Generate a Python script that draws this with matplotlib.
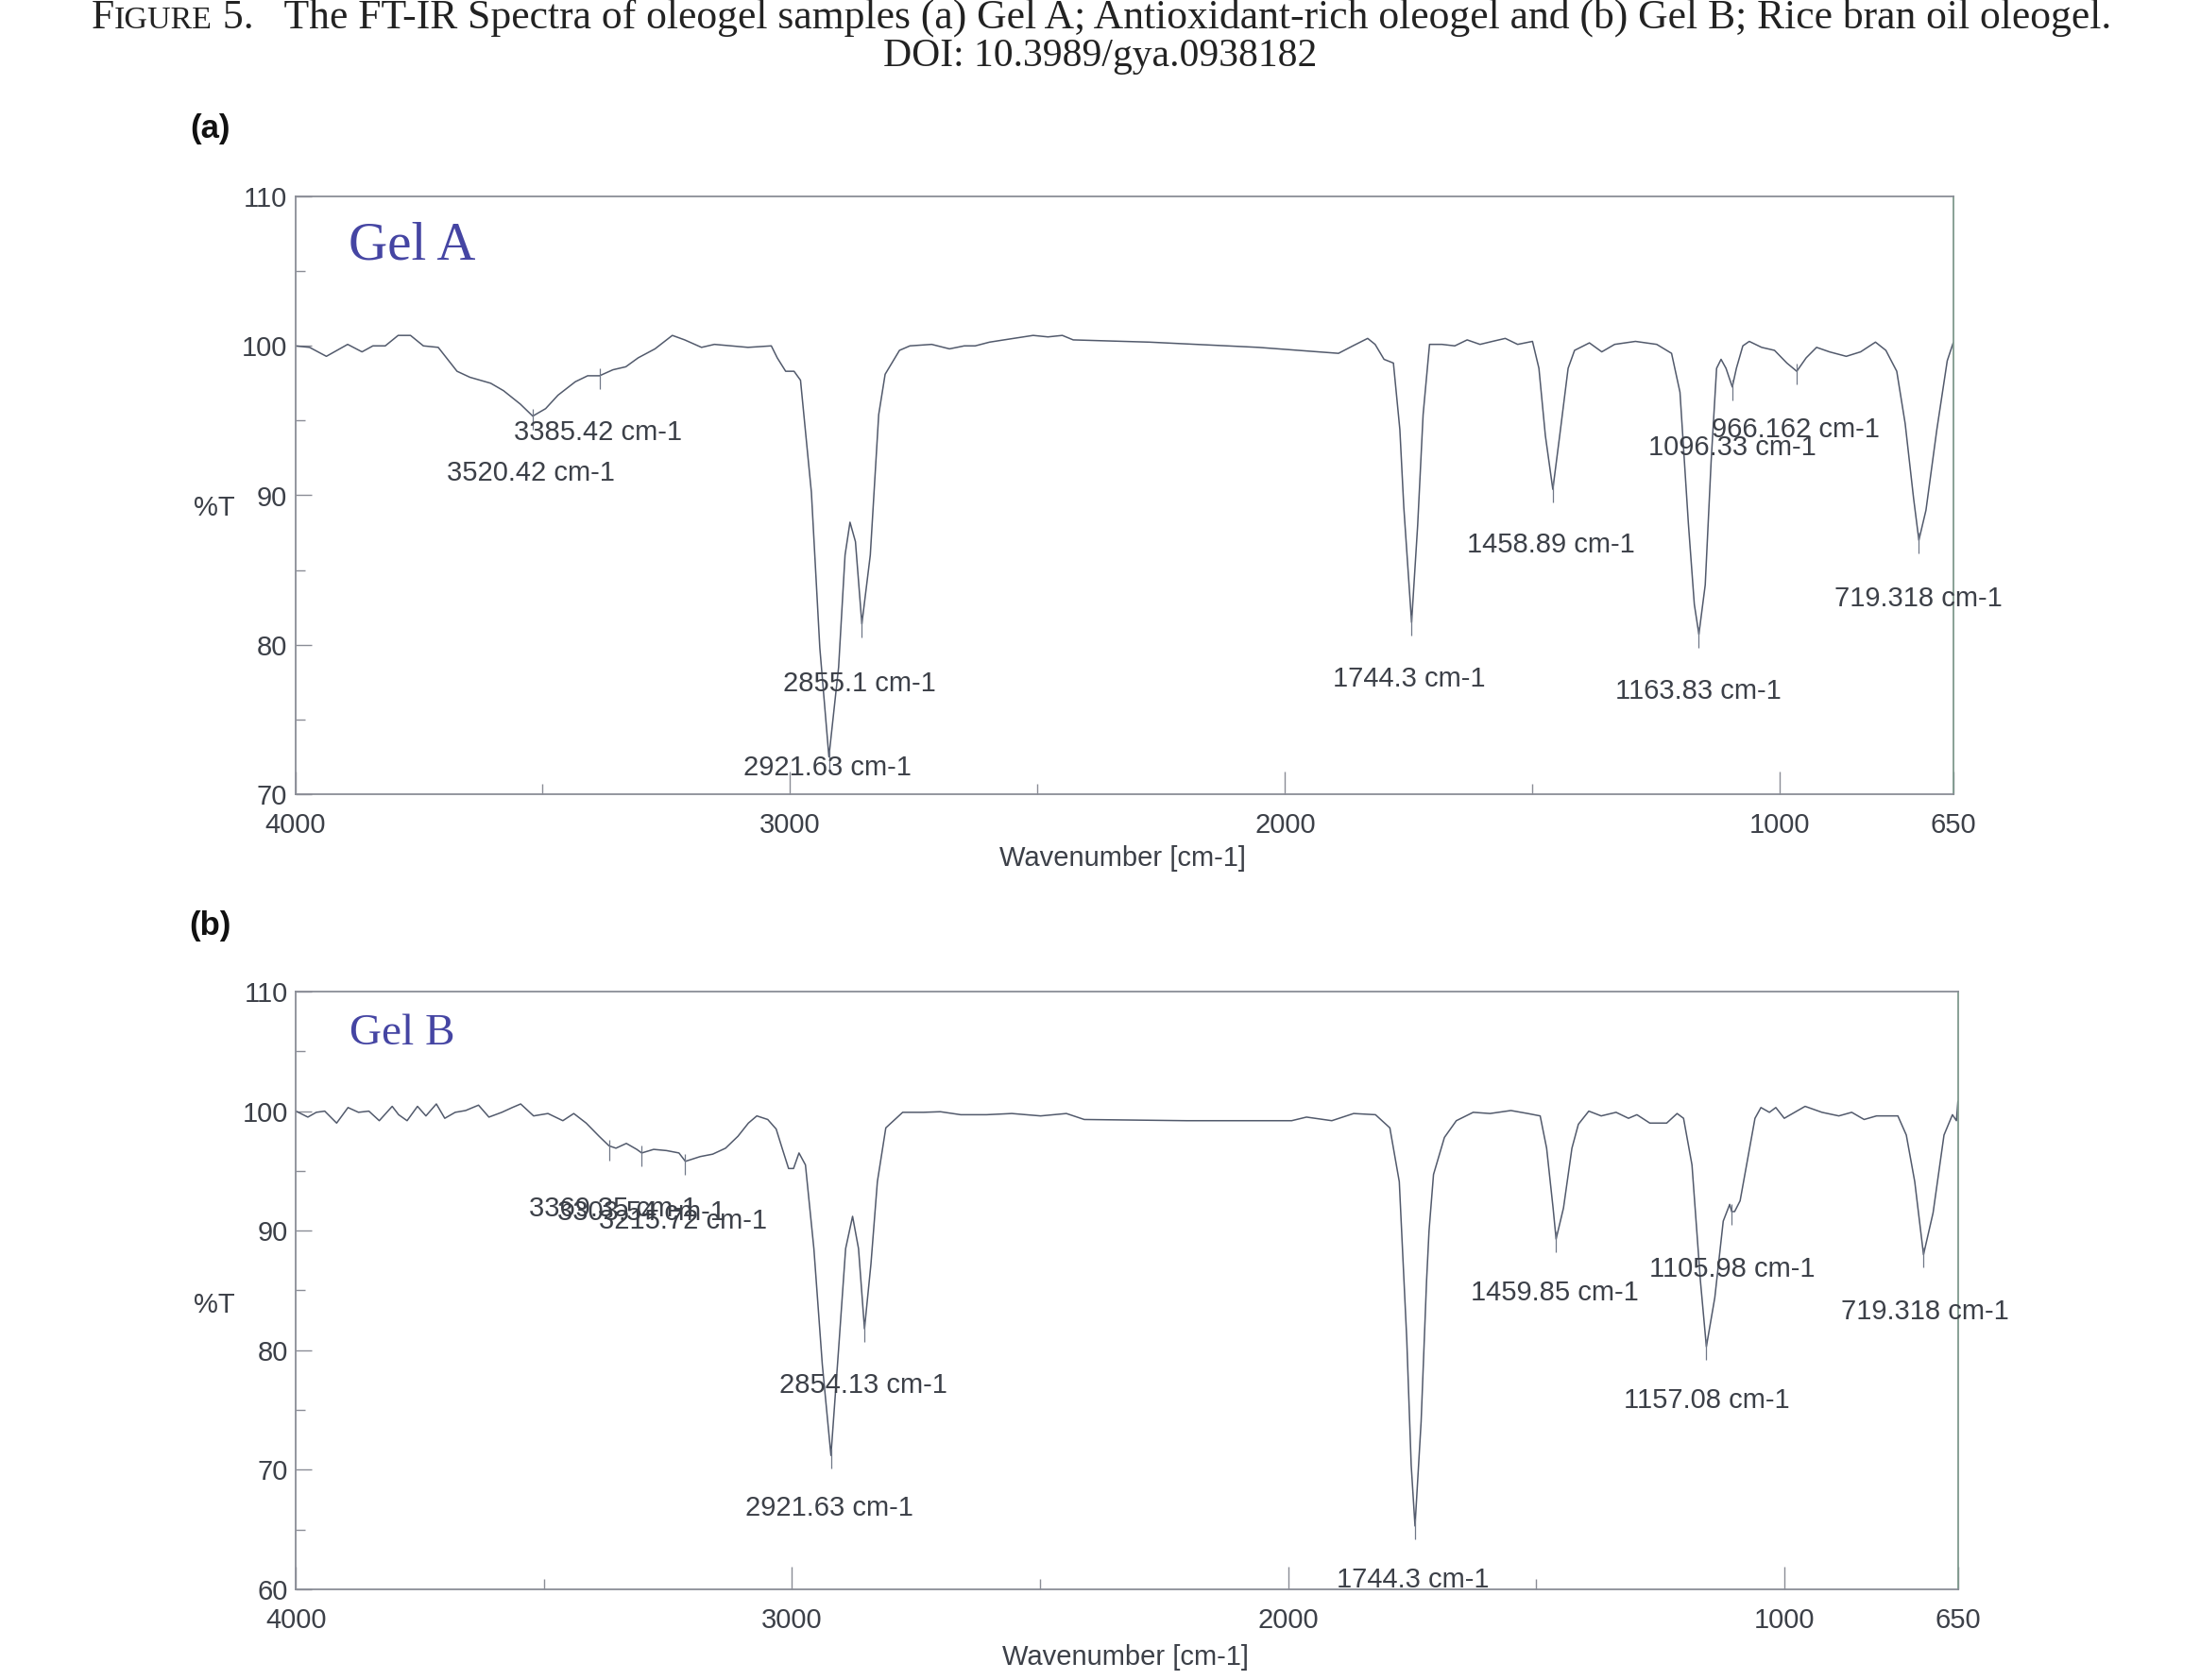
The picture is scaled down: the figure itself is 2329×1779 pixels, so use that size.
import matplotlib
matplotlib.use("Agg")
import matplotlib.pyplot as plt
from matplotlib.ticker import FixedLocator
from matplotlib.offsetbox import TextArea, HPacker, AnchoredOffsetbox

# ---------------- data ----------------
GEL_A_WN = [4000, 3971, 3937, 3894, 3865, 3843, 3818, 3792, 3767, 3741, 3711, 3673,
            3647, 3605, 3579, 3545, 3520, 3494, 3469, 3434, 3409, 3385, 3358, 3332,
            3307, 3273, 3238, 3213, 3179, 3153, 3119, 3085, 3038, 3026, 3009, 2992,
            2979, 2957, 2940, 2921.6, 2902, 2889, 2879, 2868, 2855, 2838, 2821, 2808,
            2779, 2758, 2714, 2678, 2648, 2626, 2597, 2568, 2509, 2479, 2450, 2428,
            2274, 2054, 1892, 1863, 1833, 1818, 1800, 1781, 1768, 1760, 1744.3, 1732,
            1721, 1708, 1683, 1657, 1632, 1606, 1581, 1555, 1530, 1500, 1487, 1474,
            1458.9, 1445, 1428, 1415, 1385, 1360, 1334, 1292, 1249, 1219, 1202, 1185,
            1173, 1163.8, 1151, 1139, 1128, 1119, 1109, 1096.3, 1088, 1075, 1062, 1037,
            1011, 986, 966, 947, 926, 900, 866, 837, 807, 786, 764, 747, 730, 719.3,
            705, 683, 662, 650]
GEL_A_T = [100.0, 99.9, 99.3, 100.1, 99.6, 100.0, 100.0, 100.7, 100.7, 100.0, 99.9, 98.3,
           97.9, 97.5, 97.0, 96.1, 95.3, 95.8, 96.7, 97.6, 98.0, 98.0, 98.4, 98.6,
           99.2, 99.8, 100.7, 100.4, 99.9, 100.1, 100.0, 99.9, 100.0, 99.2, 98.3, 98.3,
           97.7, 90.2, 79.8, 72.5, 78.5, 86.0, 88.2, 86.9, 81.4, 86.0, 95.4, 98.1,
           99.7, 100.0, 100.1, 99.8, 100.0, 100.0, 100.25, 100.4, 100.7, 100.6, 100.7, 100.4,
           100.25, 99.9, 99.5, 100.0, 100.5, 100.1, 99.1, 98.85, 94.4, 89.2, 81.5, 88.0,
           95.4, 100.1, 100.1, 100.0, 100.4, 100.1, 100.3, 100.5, 100.1, 100.3, 98.5, 94.0,
           90.4, 94.0, 98.5, 99.7, 100.2, 99.6, 100.1, 100.3, 100.1, 99.5, 96.9, 88.1,
           82.7, 80.7, 84.0, 92.3, 98.5, 99.1, 98.5, 97.25, 98.5, 100.0, 100.3, 99.9,
           99.7, 98.85, 98.3, 99.2, 99.9, 99.6, 99.3, 99.6, 100.25, 99.7, 98.3, 94.8, 89.8, 87.0,
           89.0, 94.4, 99.0, 100.2]

GEL_B_WN = [4000, 3976, 3959, 3942, 3918, 3895, 3874, 3853, 3832, 3806, 3793, 3776,
            3755, 3738, 3717, 3700, 3679, 3658, 3632, 3611, 3585, 3564, 3547, 3521,
            3492, 3462, 3440, 3415, 3389, 3369, 3355, 3334, 3313, 3303, 3279, 3253,
            3228, 3215, 3185, 3160, 3134, 3109, 3088, 3071, 3049, 3032, 3020, 3007,
            2997, 2986, 2973, 2956, 2939, 2921.6, 2906, 2892, 2878, 2866, 2854, 2841,
            2828, 2811, 2777, 2735, 2701, 2660, 2608, 2557, 2499, 2447, 2411, 2205,
            1993, 1963, 1912, 1868, 1824, 1795, 1776, 1761, 1752, 1744.3, 1732, 1721,
            1716, 1707, 1685, 1661, 1627, 1593, 1551, 1517, 1492, 1479, 1466, 1459.9,
            1445, 1428, 1415, 1394, 1369, 1339, 1314, 1297, 1271, 1237, 1216, 1203,
            1186, 1169, 1157, 1140, 1123, 1110, 1106, 1100, 1089, 1076, 1059, 1047,
            1030, 1017, 1000, 958, 924, 890, 864, 839, 814, 771, 754, 737, 719.3,
            700, 678, 661, 653, 650]
GEL_B_T = [100.0, 99.5, 99.9, 100.0, 99.0, 100.3, 99.9, 100.0, 99.2, 100.4, 99.7, 99.2,
           100.4, 99.6, 100.6, 99.4, 99.9, 100.05, 100.5, 99.5, 99.9, 100.3, 100.6, 99.6,
           99.8, 99.2, 99.8, 99.0, 97.9, 97.1, 96.9, 97.3, 96.8, 96.5, 96.8, 96.7,
           96.5, 95.8, 96.2, 96.4, 96.9, 97.9, 99.0, 99.6, 99.3, 98.5, 96.9, 95.2,
           95.2, 96.5, 95.5, 88.5, 78.8, 71.2, 80.2, 88.5, 91.2, 88.5, 81.8, 87.2,
           94.1, 98.6, 99.9, 99.9, 99.95, 99.7, 99.7, 99.8, 99.6, 99.8, 99.3, 99.2,
           99.2, 99.5, 99.2, 99.8, 99.7, 98.6, 94.1, 81.0, 70.4, 65.3, 74.0, 85.8,
           90.0, 94.7, 97.8, 99.2, 99.9, 99.8, 100.05, 99.8, 99.6, 96.9, 91.9, 89.3,
           91.9, 96.9, 98.9, 100.0, 99.6, 99.9, 99.4, 99.7, 99.0, 99.0, 99.8, 99.4,
           95.5, 85.8, 80.3, 84.4, 90.8, 92.2, 91.6, 91.6, 92.5, 95.5, 99.4, 100.3,
           99.9, 100.3, 99.4, 100.4, 99.9, 99.6, 99.9, 99.3, 99.6, 99.6, 98.0, 94.1, 88.0,
           91.5, 98.0, 99.7, 99.2, 100.8]

# peak markers (position, %T at the curve)
PEAKS_A = [3520.42, 3385.42, 2921.63, 2855.1, 1744.3, 1458.89, 1163.83, 1096.33, 966.162, 719.318]
PEAKS_A_T = [95.3, 98.0, 72.5, 81.4, 81.5, 90.4, 80.7, 97.25, 98.3, 87.0]
PEAKS_B = [3369.35, 3303.54, 3215.72, 2921.63, 2854.13, 1744.3, 1459.85, 1157.08, 1105.98, 719.318]
PEAKS_B_T = [97.0, 96.5, 95.8, 71.2, 81.8, 65.3, 89.3, 80.3, 91.6, 88.0]

# peak labels (text, centre x, centre y)
LABELS_A = ["3385.42 cm-1", "3520.42 cm-1", "2855.1 cm-1", "2921.63 cm-1", "1744.3 cm-1",
            "1458.89 cm-1", "1163.83 cm-1", "1096.33 cm-1", "966.162 cm-1", "719.318 cm-1"]
LABELS_A_X = [3388, 3524, 2859, 2924, 1749, 1462, 1165, 1097, 969, 720]
LABELS_A_Y = [94.2, 91.5, 77.4, 71.8, 77.7, 86.7, 76.9, 93.2, 94.4, 83.1]
LABELS_B = ["3369.35 cm-1", "3303.54 cm-1", "3215.72 cm-1", "2854.13 cm-1", "2921.63 cm-1",
            "1744.3 cm-1", "1459.85 cm-1", "1105.98 cm-1", "1157.08 cm-1", "719.318 cm-1"]
LABELS_B_X = [3360, 3304, 3219, 2856, 2924, 1748, 1462, 1105, 1156, 717]
LABELS_B_Y = [91.8, 91.5, 90.8, 77.1, 66.8, 60.8, 84.8, 86.8, 75.8, 83.2]

X_TICKS = [4000, 3000, 2000, 1000, 650]
X_MINOR = [3500, 2500, 1500]

# ---------------- figure ----------------
W, H, DPI = 2329, 1779, 100
fig = plt.figure(figsize=(W / DPI, H / DPI), dpi=DPI)
fig.patch.set_facecolor("white")

SANS = "Liberation Sans"
SERIF = "Liberation Serif"
TXT = "#3c4048"
LINE = "#525a6c"
SPINE = "#8a8d96"


def rect(l, r, t, b):
    return [l / W, 1 - b / H, (r - l) / W, (b - t) / H]


axA = fig.add_axes(rect(312.5, 2067.7, 208, 841))
axB = fig.add_axes(rect(313.3, 2072.7, 1050, 1683))


def style(ax, ylo, yhi, ymajor, yminor):
    ax.set_xlim(4000, 650)
    ax.set_ylim(ylo, yhi)
    ax.xaxis.set_major_locator(FixedLocator(X_TICKS))
    ax.xaxis.set_minor_locator(FixedLocator(X_MINOR))
    ax.set_xticklabels([str(v) for v in X_TICKS])
    ax.yaxis.set_major_locator(FixedLocator(ymajor))
    ax.yaxis.set_minor_locator(FixedLocator(yminor))
    ax.set_yticklabels([str(v) for v in ymajor])
    ax.tick_params(axis="x", which="major", direction="in", length=17, width=1.0,
                   color=SPINE, pad=14, labelsize=21, labelcolor=TXT)
    ax.tick_params(axis="x", which="minor", direction="in", length=8, width=1.0, color=SPINE)
    ax.tick_params(axis="y", which="major", direction="in", length=12, width=1.0,
                   color=SPINE, pad=6, labelsize=21, labelcolor=TXT)
    ax.tick_params(axis="y", which="minor", direction="in", length=7.5, width=1.0, color=SPINE)
    for lab in ax.get_xticklabels() + ax.get_yticklabels():
        lab.set_fontfamily(SANS)
    for s in ax.spines.values():
        s.set_color(SPINE)
        s.set_linewidth(1.3)
    ax.spines["right"].set_color("#7f9a8e")


style(axA, 70, 110, [70, 80, 90, 100, 110], [75, 85, 95, 105])
style(axB, 60, 110, [60, 70, 80, 90, 100, 110], [65, 75, 85, 95, 105])

axA.plot(GEL_A_WN, GEL_A_T, color=LINE, lw=1.1)
axB.plot(GEL_B_WN, GEL_B_T, color=LINE, lw=1.1)

axA.vlines(PEAKS_A, [t - 0.9 for t in PEAKS_A_T], [t + 0.5 for t in PEAKS_A_T],
           color="#707888", lw=0.9)
axB.vlines(PEAKS_B, [t - 1.1 for t in PEAKS_B_T], [t + 0.6 for t in PEAKS_B_T],
           color="#707888", lw=0.9)

for s, x, y in zip(LABELS_A, LABELS_A_X, LABELS_A_Y):
    axA.text(x, y, s, ha="center", va="center", fontsize=21, family=SANS, color=TXT)
for s, x, y in zip(LABELS_B, LABELS_B_X, LABELS_B_Y):
    axB.text(x, y, s, ha="center", va="center", fontsize=21, family=SANS, color=TXT)

axA.text(3892, 106.7, "Gel A", ha="left", va="center", fontsize=41, family=SERIF,
         color="#4545a3")
axB.text(3892, 106.5, "Gel B", ha="left", va="center", fontsize=34, family=SERIF,
         color="#4545a3")

# axis titles
for y in (0.6976, 0.2232):
    fig.text(0.0973, y, "%T", ha="center", va="center", fontsize=21, family=SANS, color=TXT)
fig.text(0.5105, 0.4888, "Wavenumber [cm-1]", ha="center", va="center", fontsize=21,
         family=SANS, color=TXT)
fig.text(0.5117, 0.0135, "Wavenumber [cm-1]", ha="center", va="center", fontsize=21,
         family=SANS, color=TXT)

# panel letters
fig.text(0.0957, 0.9232, "(a)", ha="center", va="center", fontsize=25, family=SANS,
         weight="bold", color="#111111")
fig.text(0.0957, 0.4487, "(b)", ha="center", va="center", fontsize=25, family=SANS,
         weight="bold", color="#111111")

# figure caption with small caps "FIGURE"
cap = dict(family=SERIF, color="#222222")
parts = [TextArea("F", textprops=dict(fontsize=31.4, **cap)),
         TextArea("IGURE", textprops=dict(fontsize=24.5, **cap)),
         TextArea(" 5.   The FT-IR Spectra of oleogel samples (a) Gel A; Antioxidant-rich "
                  "oleogel and (b) Gel B; Rice bran oil oleogel.",
                  textprops=dict(fontsize=31.4, **cap))]
pack = HPacker(children=parts, align="baseline", pad=0, sep=0)
box = AnchoredOffsetbox(loc="center", child=pack, bbox_to_anchor=(0.5005, 0.9895),
                        bbox_transform=fig.transFigure, frameon=False, pad=0, borderpad=0)
fig.add_artist(box)
fig.text(0.5, 0.9666, "DOI: 10.3989/gya.0938182", ha="center", va="center", fontsize=30,
         family=SERIF, color="#222222")

fig.savefig("out.png", dpi=DPI, facecolor="white")
